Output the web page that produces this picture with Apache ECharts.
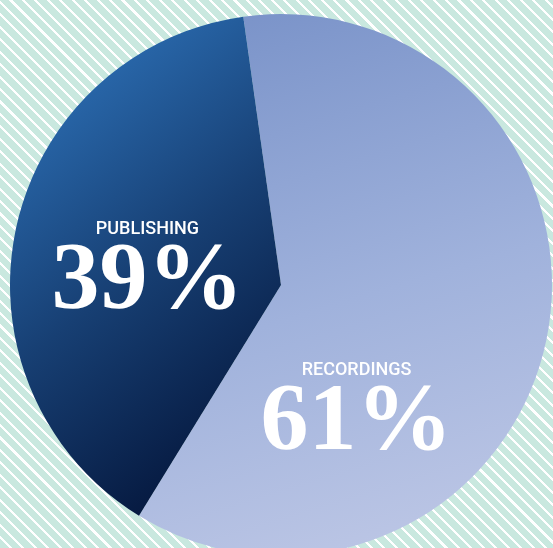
<!DOCTYPE html>
<html>
<head>
<meta charset="utf-8">
<script src="https://cdn.jsdelivr.net/npm/echarts@6/dist/echarts.min.js"></script>
<style>
  html, body { margin: 0; padding: 0; }
  #chart {
    width: 553px; height: 548px;
    background: repeating-linear-gradient(45deg, #c9e8df 0px, #c9e8df 6.6px, #ffffff 6.6px, #ffffff 8.8px);
  }
</style>
</head>
<body>
<div id="chart"></div>
<script>
const categories = ['RECORDINGS', 'PUBLISHING'];
const shares = [61, 39];

const chart = echarts.init(document.getElementById('chart'), null, { renderer: 'canvas' });

const sliceColors = [
  new echarts.graphic.LinearGradient(0.2, 0, 0.6, 1, [
    { offset: 0, color: '#7a93c9' },
    { offset: 0.55, color: '#a0b2dc' },
    { offset: 1, color: '#bcc6e5' }
  ]),
  new echarts.graphic.LinearGradient(0, 0.15, 1, 0.85, [
    { offset: 0, color: '#2c6fb5' },
    { offset: 0.5, color: '#173f73' },
    { offset: 1, color: '#04153a' }
  ])
];
const labelOffsets = [[-60, 101], [2, 17]];

const data = categories.map((name, i) => ({
  name: name,
  value: shares[i],
  itemStyle: { color: sliceColors[i] },
  label: { offset: labelOffsets[i] }
}));

chart.setOption({
  animation: false,
  series: [{
    type: 'pie',
    center: [281, 285],
    radius: [0, 271],
    startAngle: 98,
    clockwise: true,
    silent: true,
    data: data,
    itemStyle: { borderWidth: 0 },
    labelLine: { show: false },
    label: {
      show: true,
      position: 'inside',
      color: '#ffffff',
      formatter: p => '{name|' + p.name + '}\n{pct|' + p.value + '%}',
      rich: {
        name: {
          fontFamily: 'Roboto', fontWeight: 500, fontSize: 18, color: '#ffffff',
          align: 'center', lineHeight: 20, padding: [0, 0, 2, 0]
        },
        pct: {
          fontFamily: '"Liberation Serif", "DejaVu Serif", serif', fontWeight: 'bold',
          fontSize: 96, color: '#ffffff', align: 'center', lineHeight: 86
        }
      }
    }
  }]
});
</script>
</body>
</html>
